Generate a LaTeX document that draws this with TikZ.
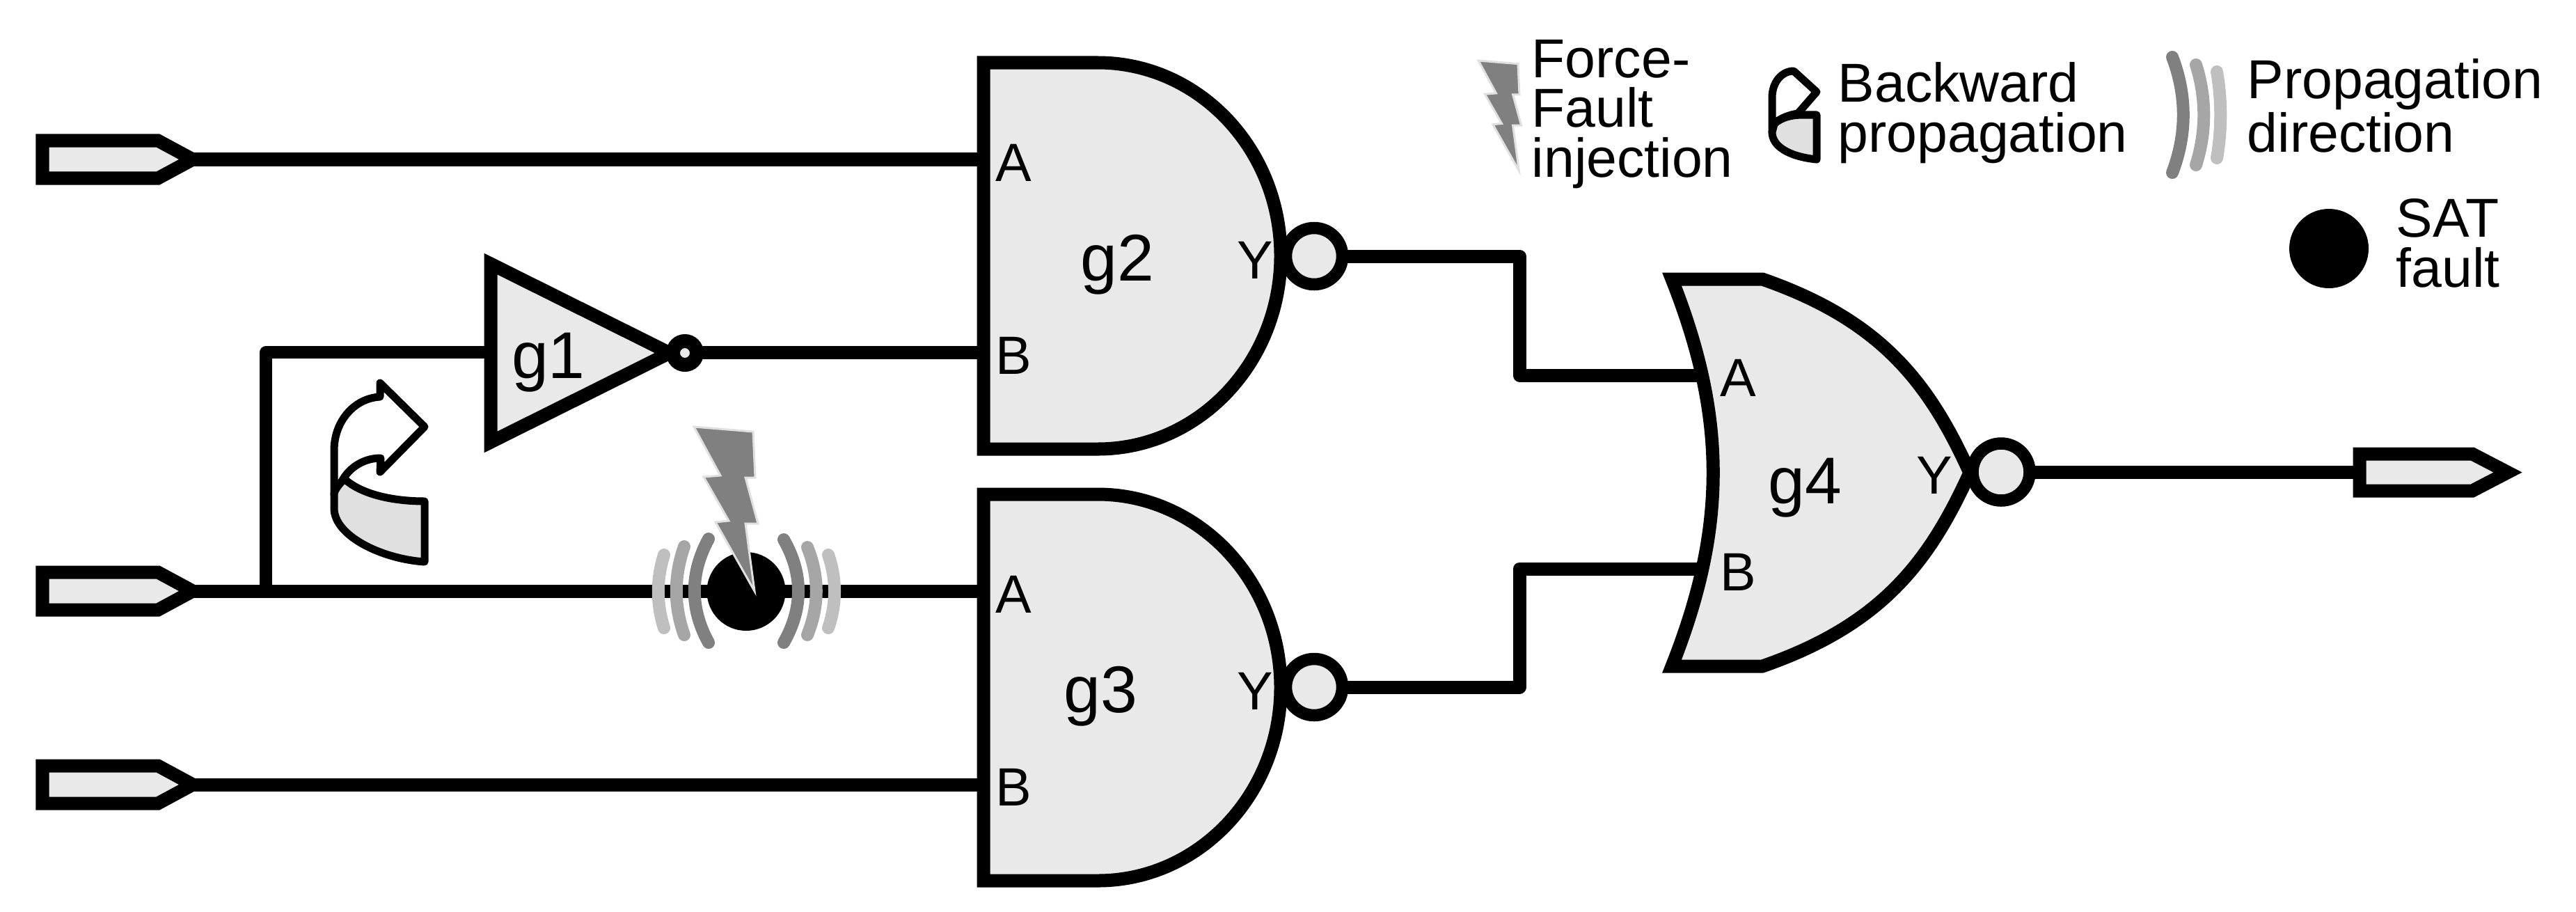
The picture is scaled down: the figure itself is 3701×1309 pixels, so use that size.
\documentclass[tikz,border=0pt]{standalone}
\usepackage{fontspec}
\setmainfont{Liberation Sans}
\definecolor{gatefill}{HTML}{E9E9E9}
\definecolor{iconfill}{HTML}{E0E0E0}
\definecolor{wavea}{HTML}{808080}
\definecolor{waveb}{HTML}{A6A6A6}
\definecolor{wavec}{HTML}{BFBFBF}
\tikzset{
  gate/.style={draw=black,fill=gatefill,line width=0.19cm,line join=miter,miter limit=20},
  bubble/.style={draw=black,fill=gatefill,line width=0.175cm},
  wire/.style={draw=black,line width=0.19cm,line join=round},
  wavea/.style={draw=wavea,line width=0.18cm,line cap=round},
  waveb/.style={draw=waveb,line width=0.18cm,line cap=round},
  wavec/.style={draw=wavec,line width=0.18cm,line cap=round},
  iconline/.style={draw=black,line width=0.11cm,line join=round},
  pinlabel/.style={font=\fontsize{22}{22}\selectfont,anchor=base,inner sep=0pt},
  gatelabel/.style={font=\fontsize{27}{27}\selectfont,anchor=base,inner sep=0pt},
  legendtext/.style={font=\fontsize{22.4}{20.2}\selectfont,align=left,anchor=base west,inner sep=0pt},
  pics/faultbolt/.style={code={
    \draw[draw=black!12,fill=wavea,line width=0.03cm,line join=miter]
      (0,0)--(85,7)--(88,73)--(74,73)--(92,139)--(74,139)--(87,236)--(31,137)--(50,135)--(14,72)--(38,70)--cycle;
  }},
  pics/inport/.style={code={
    \draw[gate] (0,-27)--(166,-27)--(216,0)--(166,27)--(0,27)--cycle;
  }}
}
\begin{document}
\begin{tikzpicture}[x=0.01cm,y=-0.01cm]
\useasboundingbox (0,0) rectangle (3701,1309);
% pin coordinates
\coordinate (in1) at (271,229);
\coordinate (in2) at (271,849);
\coordinate (in3) at (271,1127);
\coordinate (branch) at (382,849);
\coordinate (branchtop) at (382,506);
\coordinate (g1in) at (705,506);
\coordinate (g1out) at (1000,506);
\coordinate (g2a) at (1413,229);
\coordinate (g2b) at (1413,506);
\coordinate (g2y) at (1888,368);
\coordinate (g3a) at (1413,849);
\coordinate (g3b) at (1413,1127);
\coordinate (g3y) at (1888,987);
\coordinate (g4a) at (2445,539);
\coordinate (g4b) at (2445,817);
\coordinate (g4y) at (2875,678);
\coordinate (bend1) at (2183,368);
\coordinate (bend1b) at (2183,539);
\coordinate (bend2) at (2183,987);
\coordinate (bend2b) at (2183,817);
\coordinate (outp) at (3390,678);
\coordinate (fault) at (1072,849.5);
% wires
\draw[wire] (in1) -- (g2a);
\draw[wire] (in2) -- (g3a);
\draw[wire] (in3) -- (g3b);
\draw[wire,line width=0.175cm] (branch) -- (branchtop) -- (g1in);
\draw[wire] (g1out) -- (g2b);
\draw[wire] (g2y) -- (bend1) -- (bend1b) -- (g4a);
\draw[wire] (g3y) -- (bend2) -- (bend2b) -- (g4b);
\draw[wire] (g4y) -- (outp);
% terminals
\pic at (61,229) {inport};
\pic at (61,849) {inport};
\pic at (61,1127) {inport};
\draw[gate] (3390,652)--(3552,652)--(3603,678.5)--(3552,705)--(3390,705)--cycle;
% gates
\draw[gate] (705,379)--(962,507)--(705,635)--cycle;
\draw[bubble,line width=0.2cm] (984,507) circle (17);
\draw[gate] (1413,90)--(1577,90) arc[start angle=-90,end angle=90,x radius=263,y radius=277.5]--(1413,645)--cycle;
\draw[bubble] (g2y) circle (40.5);
\draw[gate] (1413,710)--(1577,710) arc[start angle=-90,end angle=90,x radius=263,y radius=277.5]--(1413,1265)--cycle;
\draw[bubble] (g3y) circle (40.5);
\draw[gate] (2402,401)--(2532,401)
  .. controls (2702,460) and (2771,549) .. (2830,679)
  .. controls (2771,809) and (2702,898) .. (2532,957)
  --(2402,957) .. controls (2481,758) and (2481,600) .. (2402,401)--cycle;
\draw[bubble] (g4y) circle (41);
% fault marker
\fill[black] (fault) circle (56.5);
\draw[wavea] (1018,774) .. controls (991,824) and (991,874) .. (1018,923);
\draw[waveb] (983,785) .. controls (968,828) and (968,870) .. (983,912);
\draw[wavec] (954,797) .. controls (943,832) and (943,867) .. (954,902);
\draw[wavea] (1126,775) .. controls (1154,824) and (1154,874) .. (1126,923);
\draw[waveb] (1160,786) .. controls (1177,828) and (1177,870) .. (1160,912);
\draw[wavec] (1190,797) .. controls (1202,832) and (1202,867) .. (1190,902);
\pic at (997,613) {faultbolt};
% backward icon
\draw[iconline,fill=white] (546,570)--(546,550)--(610,613)--(546,678)--(547,658)
  .. controls (524,658) and (504,670) .. (493,688)
  -- (480,710) -- (480,647) .. controls (480,605) and (509,572) .. (546,570)--cycle;
\draw[iconline,fill=iconfill] (495,688) .. controls (519,710) and (564,720) .. (610,720)
  -- (610,807) .. controls (549,803) and (480,770) .. (480,730)
  -- (480,710) .. controls (480,705) and (487,695) .. (495,688)--cycle;
% labels
\node[gatelabel] (lg1) at (788,543) {g1};
\node[gatelabel] (lg2) at (1605,403) {g2};
\node[gatelabel] (lg3) at (1581,1023) {g3};
\node[gatelabel] (lg4) at (2593,723) {g4};
\node[pinlabel] (g2A) at (1456,260) {A};
\node[pinlabel] (g2B) at (1456,537) {B};
\node[pinlabel] (g2Y) at (1803,400) {Y};
\node[pinlabel] (g3A) at (1456,880) {A};
\node[pinlabel] (g3B) at (1456,1157) {B};
\node[pinlabel] (g3Y) at (1803,1019) {Y};
\node[pinlabel] (g4A) at (2497,569) {A};
\node[pinlabel] (g4B) at (2497,848) {B};
\node[pinlabel] (g4Y) at (2779,709) {Y};
% legend
\pic[scale=.67] at (2124,87) {faultbolt};
\node[legendtext] (lforce) at (2200,254) {Force-\\Fault\\injection};
\draw[iconline,fill=white] (2577,102)--(2610,132)--(2583,163)
  .. controls (2570,165) and (2557,170) .. (2549,178)
  -- (2546,190) -- (2546,140) .. controls (2546,118) and (2560,102) .. (2577,102)--cycle;
\draw[iconline,fill=iconfill] (2549,178) .. controls (2560,168) and (2575,165) .. (2590,165)
  -- (2610,165) -- (2610,229) .. controls (2570,225) and (2546,210) .. (2546,190)--cycle;
\node[legendtext] (lback) at (2640,218) {Backward\\propagation};
\draw[wavea] (3121,82) .. controls (3142,137) and (3142,193) .. (3121,248);
\draw[waveb] (3155,93) .. controls (3170,141) and (3170,189) .. (3155,237);
\draw[wavec] (3185,103) .. controls (3192,144) and (3192,186) .. (3185,227);
\node[legendtext] (lprop) at (3228,218) {Propagation\\direction};
\fill[black] (3346,357) circle (57);
\node[legendtext] (lsat) at (3442,412) {SAT\\fault};
\end{tikzpicture}
\end{document}
